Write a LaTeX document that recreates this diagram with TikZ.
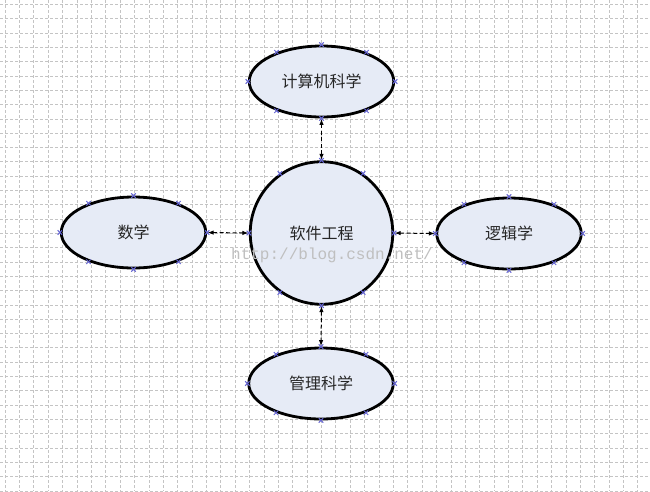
\documentclass[tikz,border=0pt]{standalone}
\usepackage{fontspec}
\newfontfamily\cjk{Noto Sans CJK SC}
\newfontfamily\wmfont{Liberation Mono}
\usetikzlibrary{shapes.geometric,arrows.meta}
\definecolor{shapefill}{HTML}{E6EBF6}
\definecolor{markc}{HTML}{6464D2}
\definecolor{gridc}{HTML}{C4C4C4}
\begin{document}
\begin{tikzpicture}[x=1pt,y=-1pt,
  gridl/.style={draw=gridc, line width=0.55pt, dash pattern=on 3pt off 2pt},
  oval/.style={ellipse, draw=black, line width=2.8pt, fill=shapefill,
    minimum width=144.5pt, minimum height=71pt, inner sep=0pt,
    font=\cjk\fontsize{16}{16}\selectfont, text=black!85},
  roundbox/.style={circle, draw=black, line width=2.8pt, fill=shapefill,
    minimum size=142.5pt, inner sep=0pt,
    font=\cjk\fontsize{16}{16}\selectfont, text=black!85},
  link/.style={line width=1pt, dash pattern=on 4pt off 2.5pt,
    {Latex[length=6pt,width=4.5pt]}-{Latex[length=6pt,width=4.5pt]}, shorten <=0.5pt, shorten >=0.5pt},
  mk/.style={draw=markc, line width=1pt}]
\useasboundingbox (0,0) rectangle (650,491);
\fill[white] (0,0) rectangle (650,491);
\foreach \i in {0,...,45} \draw[gridl] ({5+14.38*\i},0) -- ++(0,491);
\foreach \j in {0,...,34} \draw[gridl] (0,{4.3+14.31*\j}) -- ++(650,0);

\node[roundbox] (core) at (321.5,233) {软件工程};
\node[oval] (cs) at (321.5,81.5) {计算机科学};
\node[oval] (math) at (133.5,232.5) {数学};
\node[oval] (logic) at (509,233.5) {逻辑学};
\node[oval] (mgmt) at (321,383.5) {管理科学};

\node[font=\wmfont\fontsize{16}{16}\selectfont, text=black!25] (wm) at (332,255) {http://blog.csdn.net/};

\draw[link] (cs.south) -- (core.north);
\draw[link] (math.east) -- (core.west);
\draw[link] (core.east) -- (logic.west);
\draw[link] (core.south) -- (mgmt.north);

\foreach \n in {cs,math,logic,mgmt}{
  \foreach \a in {north,south,east,west,33,147,213,327}{
    \draw[mk] (\n.\a) +(-2.2,-2.2) -- +(2.2,2.2) +(-2.2,2.2) -- +(2.2,-2.2);
  }
}
\foreach \a in {north,south,east,west,55,125,235,305}{
  \draw[mk] (core.\a) +(-2.2,-2.2) -- +(2.2,2.2) +(-2.2,2.2) -- +(2.2,-2.2);
}
\end{tikzpicture}
\end{document}
